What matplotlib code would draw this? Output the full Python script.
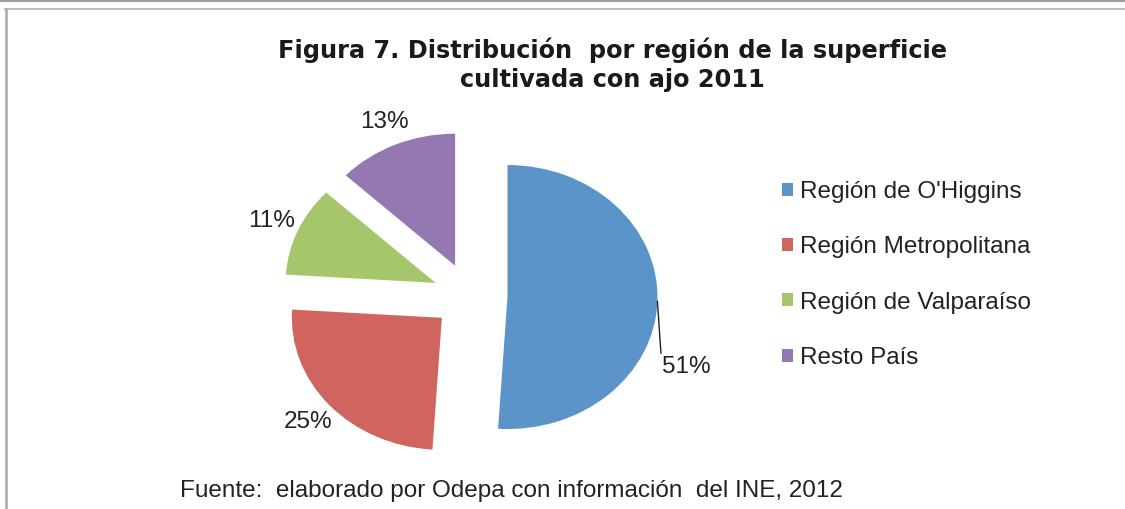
import matplotlib
matplotlib.use("Agg")
import matplotlib.pyplot as plt
from matplotlib.lines import Line2D
import numpy as np

categories = ["Región de O'Higgins", "Región Metropolitana", "Región de Valparaíso", "Resto País"]
shares = [51, 25, 11, 13]
colors = ["#5b94c9", "#d0645f", "#a5c66b", "#9478b1"]
title_lines = ["Figura 7. Distribución  por región de la superficie", "cultivada con ajo 2011"]
source_text = "Fuente:  elaborado por Odepa con información  del INE, 2012"

W, H = 1125, 509
fig = plt.figure(figsize=(W / 100, H / 100), dpi=100)
fig.patch.set_facecolor("white")

# frame lines
fig.add_artist(Line2D([0, 1], [1 - 0.8 / H, 1 - 0.8 / H], color="#a0a0a0", lw=1.5))
fig.add_artist(Line2D([5 / W, 1], [1 - 8.5 / H, 1 - 8.5 / H], color="#c0c0c0", lw=1.5))
fig.add_artist(Line2D([5.5 / W, 5.5 / W], [0, 1 - 8.5 / H], color="#a8a8a8", lw=1.8))

# pie axes: center at (470, 296) px, radius 150 px horizontally, 132 px vertically
cx, cy, rx, ry = 470, 296, 150, 132
lim = 1.6
aw, ah = 2 * lim * rx, 2 * lim * ry
ax = fig.add_axes([(cx - aw / 2) / W, (H - cy - ah / 2) / H, aw / W, ah / H])
wedges, texts, autotexts = ax.pie(
    shares, colors=colors, startangle=90, counterclock=False,
    explode=[0.25] * len(shares), autopct="%d%%", pctdistance=1.19,
    textprops=dict(family="Liberation Sans", fontsize=17.5, color="#222222"),
    wedgeprops=dict(linewidth=0))
ax.set_aspect("auto")
ax.set_xlim(-lim, lim)
ax.set_ylim(-lim, lim)
ax.axis("off")

# 51% label with leader line
w0 = wedges[0]
mid = np.deg2rad((w0.theta1 + w0.theta2) / 2)
x0 = w0.center[0] + np.cos(mid)
y0 = w0.center[1] + np.sin(mid)
autotexts[0].set_visible(False)
ax.annotate(autotexts[0].get_text(), xy=(x0, y0), xytext=(x0 + 0.03, y0 - 0.5),
            ha="left", va="center", family="Liberation Sans", fontsize=17.5, color="#222222",
            arrowprops=dict(arrowstyle="-", color="#222222", lw=1, shrinkA=0, shrinkB=0,
                            relpos=(0, 0.5)))

# title
fig.text(612 / W, 1 - 50 / H, title_lines[0], ha="center", va="center",
         family="DejaVu Sans", weight="bold", fontsize=17.3, color="#1a1a1a")
fig.text(612 / W, 1 - 80 / H, title_lines[1], ha="center", va="center",
         family="DejaVu Sans", weight="bold", fontsize=17.3, color="#1a1a1a")

# legend
leg = fig.legend(wedges, categories, loc="upper left",
                 bbox_to_anchor=(782 / W, 1 - 181 / H), frameon=False,
                 prop=dict(family="Liberation Sans", size=17.5),
                 handlelength=0.45, handleheight=0.45, handletextpad=0.3,
                 labelspacing=1.37, borderpad=0, borderaxespad=0)
for t in leg.get_texts():
    t.set_color("#222222")

# source
fig.text(180 / W, 1 - 491 / H, source_text, ha="left", va="center",
         family="Liberation Sans", fontsize=17.5, color="#222222")

fig.savefig("out.png", dpi=100, facecolor="white")
